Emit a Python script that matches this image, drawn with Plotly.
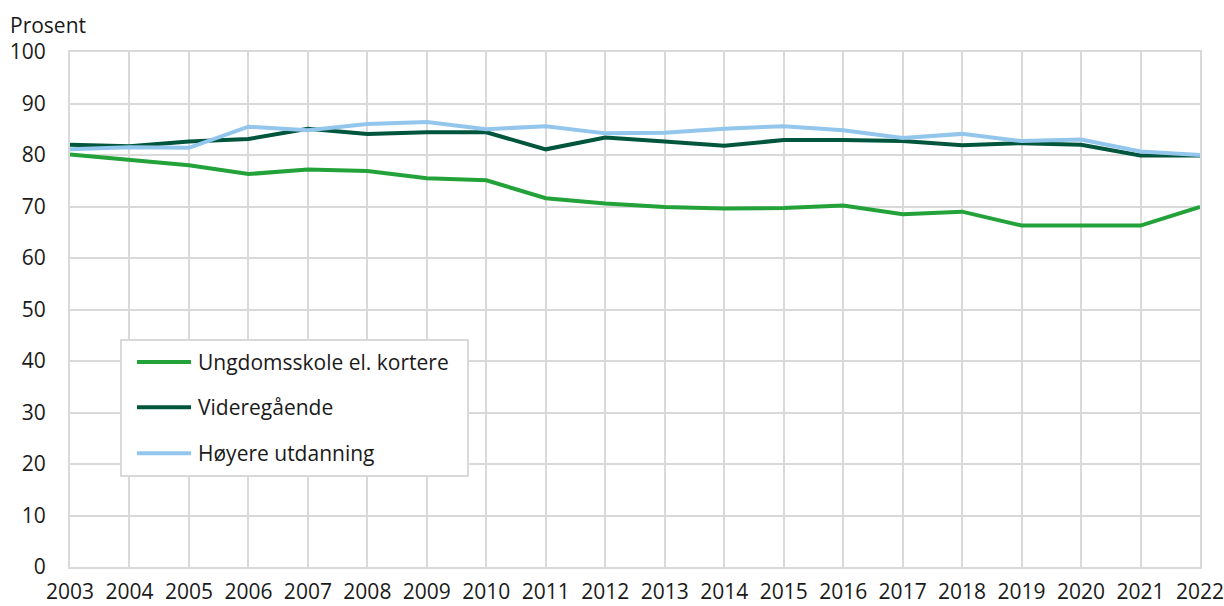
import plotly.graph_objects as go

years = list(range(2003, 2023))
ungdomsskole = [80.1, 79.0, 78.0, 76.3, 77.2, 76.9, 75.5, 75.1, 71.6, 70.6, 69.9, 69.6, 69.7, 70.2, 68.5, 69.0, 66.3, 66.3, 66.3, 69.9]
videregaende = [82.0, 81.7, 82.6, 83.1, 85.1, 84.1, 84.4, 84.4, 81.1, 83.4, 82.6, 81.8, 82.9, 82.9, 82.7, 81.9, 82.3, 82.0, 79.9, 79.9]
hoyere = [81.1, 81.5, 81.4, 85.5, 84.8, 86.0, 86.4, 85.0, 85.6, 84.2, 84.3, 85.1, 85.6, 84.8, 83.3, 84.1, 82.7, 83.0, 80.7, 80.0]

names = ["Ungdomsskole el. kortere", "Videregående", "Høyere utdanning"]
colors = ["#23a23a", "#00553d", "#93c6ec"]
series = [ungdomsskole, videregaende, hoyere]

fig = go.Figure()
for n, c, s in zip(names, colors, series):
    fig.add_trace(go.Scatter(x=years, y=s, name=n, mode="lines",
                             line=dict(color=c, width=4), showlegend=False))

grid = "#d9d9d9"

# manual legend (box, line samples, labels) in paper coordinates
shapes = [dict(type="rect", xref="paper", yref="paper", x0=0.0451, x1=0.3522,
               y0=0.1767, y1=0.4408, line=dict(color=grid, width=2),
               fillcolor="white", layer="above")]
annotations = []
leg_y = [0.3981, 0.3101, 0.2208]
for n, c, yy in zip(names, colors, leg_y):
    shapes.append(dict(type="line", xref="paper", yref="paper", x0=0.0593, x1=0.1071,
                       y0=yy, y1=yy, line=dict(color=c, width=4), layer="above"))
    annotations.append(dict(text=n, xref="paper", yref="paper", x=0.1115, y=yy,
                            xanchor="left", yanchor="middle", showarrow=False,
                            font=dict(size=21)))
annotations.append(dict(text="Prosent", xref="paper", yref="paper", x=-0.0549, y=1.052,
                        xanchor="left", yanchor="middle", showarrow=False,
                        font=dict(size=21)))

fig.update_layout(
    width=1224, height=606,
    margin=dict(l=70, r=24, t=52, b=39, autoexpand=False),
    paper_bgcolor="white", plot_bgcolor="white",
    font=dict(family="Open Sans", size=21, color="#1a1a1a"),
    showlegend=False,
    xaxis=dict(range=[2003, 2022], tickmode="array", tickvals=years,
               ticktext=[str(y) for y in years],
               showgrid=True, gridcolor=grid, gridwidth=2,
               showline=True, linecolor=grid, linewidth=2, mirror=True,
               ticks="", zeroline=False, tickfont=dict(size=21),
               ticklabelstandoff=5, automargin=False, ticklabeloverflow="allow"),
    yaxis=dict(range=[0, 100], tickvals=list(range(0, 101, 10)),
               showgrid=True, gridcolor=grid, gridwidth=2,
               showline=True, linecolor=grid, linewidth=2, mirror=True,
               ticks="", zeroline=False, tickfont=dict(size=21),
               ticklabelstandoff=18, automargin=False, ticklabeloverflow="allow"),
    shapes=shapes,
    annotations=annotations,
)

fig.write_html("out.html",
               config={"displayModeBar": False},
               post_script="document.body.style.margin='0px';"
                           "document.documentElement.style.overflow='hidden';"
                           "document.body.style.overflow='hidden';")
